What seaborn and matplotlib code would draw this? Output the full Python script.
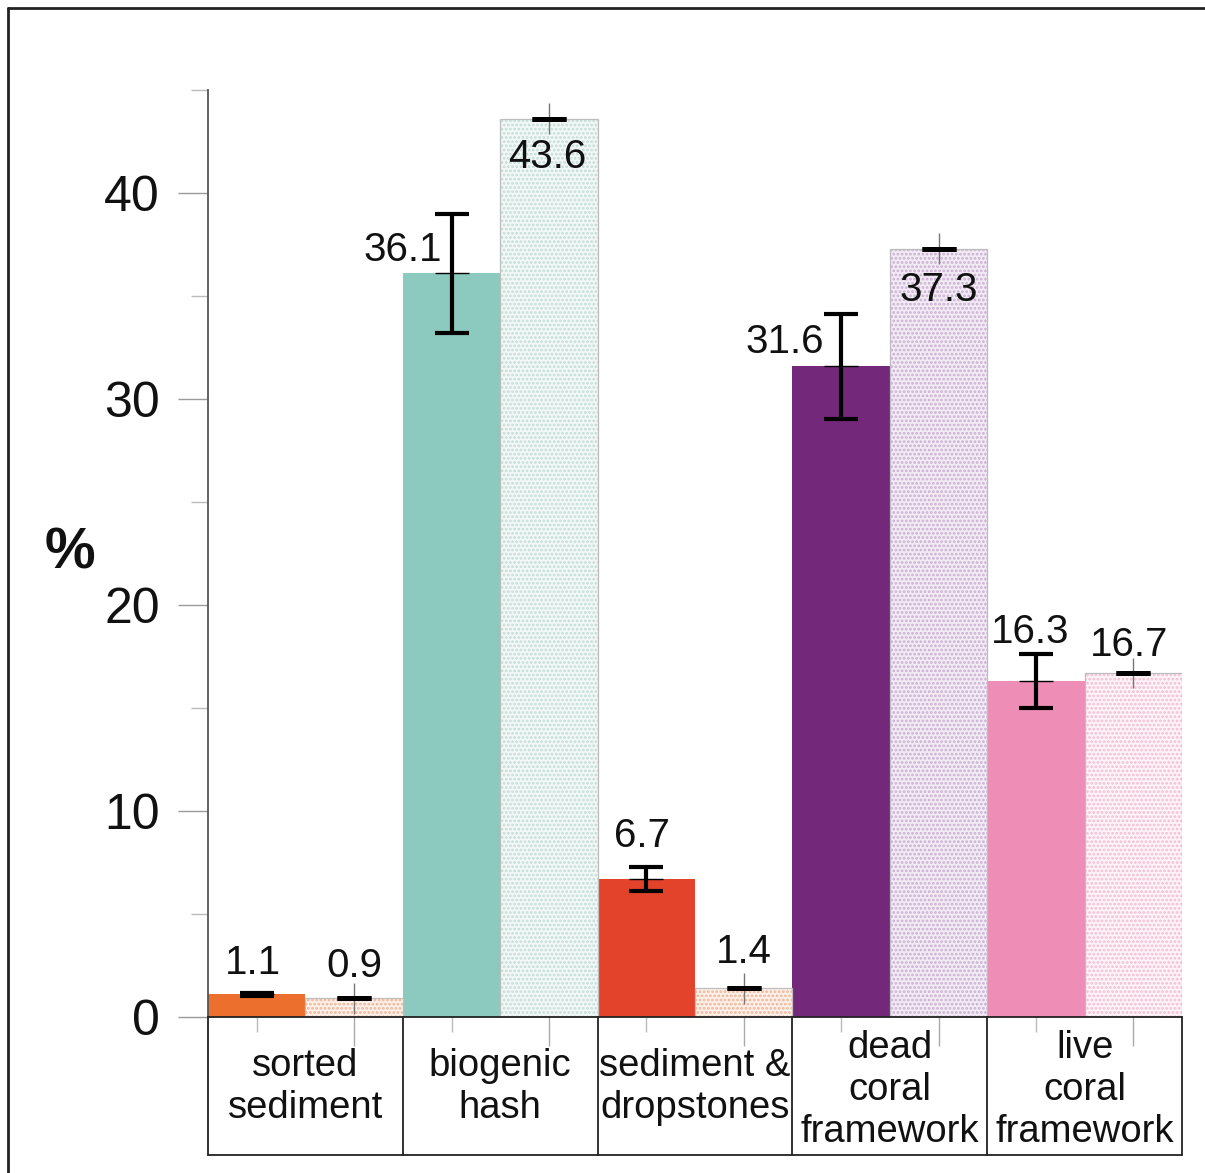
import matplotlib
matplotlib.use("Agg")
import matplotlib.pyplot as plt
import matplotlib.transforms as mtransforms
from matplotlib.lines import Line2D
from matplotlib.patches import Rectangle
import seaborn as sns
import pandas as pd

# ---------------- data ----------------
categories = ["sorted\nsediment", "biogenic\nhash", "sediment &\ndropstones",
              "dead\ncoral\nframework", "live\ncoral\nframework"]
solid_vals = [1.1, 36.1, 6.7, 31.6, 16.3]
pale_vals = [0.9, 43.6, 1.4, 37.3, 16.7]
solid_err = [0.08, 2.9, 0.56, 2.55, 1.3]
pale_err = [0.0, 0.0, 0.0, 0.0, 0.0]
pale_range = [0.75, 0.75, 0.75, 0.75, 0.75]
solid_labels = ["1.1", "36.1", "6.7", "31.6", "16.3"]
pale_labels = ["0.9", "43.6", "1.4", "37.3", "16.7"]
yticks = [0, 10, 20, 30, 40]

solid_colors = ["#EC6F2D", "#8CC9BF", "#E4432B", "#742879", "#EE8EB7"]
pale_colors = ["#FDF0E8", "#F1F8F6", "#FDF0E8", "#F2EAF4", "#FEF3F7"]
hatch_colors = ["#EDB49A", "#C3DCD7", "#EDB49A", "#C9AFD1", "#F2BDD2"]

# label layout (offsets in data units relative to bar centre / value)
solid_lab_dx = [-0.02, -0.25, -0.02, -0.29, -0.03]
solid_lab_dy = [1.52, 1.13, 2.09, 1.17, 2.39]
pale_lab_dx = [0.0, -0.01, 0.0, 0.0, -0.02]
pale_lab_dy = [1.58, -1.85, 1.76, -2.01, 1.36]

# ---------------- figure ----------------
sns.set_theme(style="white")
plt.rcParams["font.family"] = ["Liberation Sans", "DejaVu Sans"]
plt.rcParams["hatch.linewidth"] = 1.3

fig = plt.figure(figsize=(12.05, 11.73), dpi=100)
ax = fig.add_axes([208 / 1205, 1 - 1017 / 1173, (1182 - 208) / 1205, (1017 - 90) / 1173])

df = pd.DataFrame({
    "category": categories * 2,
    "series": ["solid"] * 5 + ["pale"] * 5,
    "value": solid_vals + pale_vals,
})
sns.barplot(data=df, x="category", y="value", hue="series", order=categories,
            hue_order=["solid", "pale"], width=1.0, gap=0, errorbar=None,
            legend=False, ax=ax, linewidth=0)

patches = sorted(ax.patches, key=lambda p: p.get_x())
solid_p = patches[0::2]
pale_p = patches[1::2]
solid_x = [p.get_x() + p.get_width() / 2 for p in solid_p]
pale_x = [p.get_x() + p.get_width() / 2 for p in pale_p]

for p, c in zip(solid_p, solid_colors):
    p.set_facecolor(c)
    p.set_edgecolor("none")
    p.set_linewidth(0)
for p, c, hc in zip(pale_p, pale_colors, hatch_colors):
    p.set_facecolor(c)
    p.set_edgecolor(hc)
    p.set_hatch("....")
    p.set_linewidth(0)
    ax.add_patch(Rectangle(p.get_xy(), p.get_width(), p.get_height(),
                           fill=False, ec="#BDBDBD", lw=0.9, zorder=p.get_zorder() + 0.1))

# error bars
ax.errorbar(pale_x, pale_vals, yerr=pale_range, fmt="none", ecolor="#777777",
            elinewidth=1.0, capsize=0, zorder=5)
ax.errorbar(solid_x, solid_vals, yerr=solid_err, fmt="none", ecolor="black",
            elinewidth=3.0, capsize=12.5, capthick=3.0, zorder=6)
ax.errorbar(pale_x, pale_vals, yerr=pale_err, fmt="none", ecolor="black",
            elinewidth=3.0, capsize=12.5, capthick=3.5, zorder=6)
ax.plot(solid_x, solid_vals, ls="none", marker="_", ms=25, mew=1.0, color="black", zorder=6)

# value labels
for x, v, t, dx, dy in zip(solid_x, solid_vals, solid_labels, solid_lab_dx, solid_lab_dy):
    ax.text(x + dx, v + dy, t, ha="center", va="center", fontsize=29, color="#111111", zorder=7)
for x, v, t, dx, dy in zip(pale_x, pale_vals, pale_labels, pale_lab_dx, pale_lab_dy):
    ax.text(x + dx, v + dy, t, ha="center", va="center", fontsize=29, color="#111111", zorder=7)

# axes styling
ax.set_xlim(-0.5, 4.5)
ax.set_ylim(0, 45)
ax.set_xlabel("")
ax.set_ylabel("")
ax.set_yticks(yticks)
ax.set_yticks([5, 15, 25, 35, 45], minor=True)
ax.set_yticklabels([str(t) for t in yticks], fontsize=36, color="#111111")
ax.tick_params(axis="y", which="major", length=21.6, width=1.0, color="#9A9A9A",
               pad=13, left=True, direction="out")
ax.tick_params(axis="y", which="minor", length=12, width=1.0, color="#BBBBBB",
               left=True, direction="out")
ax.set_xticks(pale_x)
ax.set_xticks(solid_x, minor=True)
ax.set_xticklabels([""] * 5)
ax.tick_params(axis="x", which="major", length=21, width=1.0, color="#AAAAAA",
               bottom=True, direction="out", labelbottom=False)
ax.tick_params(axis="x", which="minor", length=11, width=1.0, color="#BBBBBB",
               bottom=True, direction="out")

for s in ["top", "right"]:
    ax.spines[s].set_visible(False)
ax.spines["left"].set_color("#555555")
ax.spines["left"].set_linewidth(1.3)
ax.spines["bottom"].set_color("#222222")
ax.spines["bottom"].set_linewidth(1.3)

# category label box
trans = mtransforms.blended_transform_factory(ax.transData, ax.transAxes)
box_bottom = -(1155 - 1017) / 927
for xb in [-0.5, 0.5, 1.5, 2.5, 3.5, 4.5]:
    ax.plot([xb, xb], [0, box_bottom], transform=trans, color="#222222", lw=1.3, clip_on=False)
ax.plot([-0.5, 4.5], [box_bottom, box_bottom], transform=trans, color="#222222", lw=1.3, clip_on=False)
for i, cat in enumerate(categories):
    nlines = cat.count("\n") + 1
    yc = -(1087 - 1017) / 927 if nlines == 2 else -(1090 - 1017) / 927
    ax.text(i, yc, cat, transform=trans, ha="center", va="center", fontsize=27.5,
            linespacing=1.21, color="#111111")

# y label
fig.text(70 / 1205, 1 - 553 / 1173, "%", fontsize=41, fontweight="bold",
         ha="center", va="center", color="#111111")

# outer frame
fig.add_artist(Line2D([8 / 1205, 1.01], [1 - 8 / 1173, 1 - 8 / 1173], color="#222222", lw=2))
fig.add_artist(Line2D([8 / 1205, 8 / 1205], [1 - 8 / 1173, -0.01], color="#222222", lw=2))

fig.savefig("out.png", dpi=100)
